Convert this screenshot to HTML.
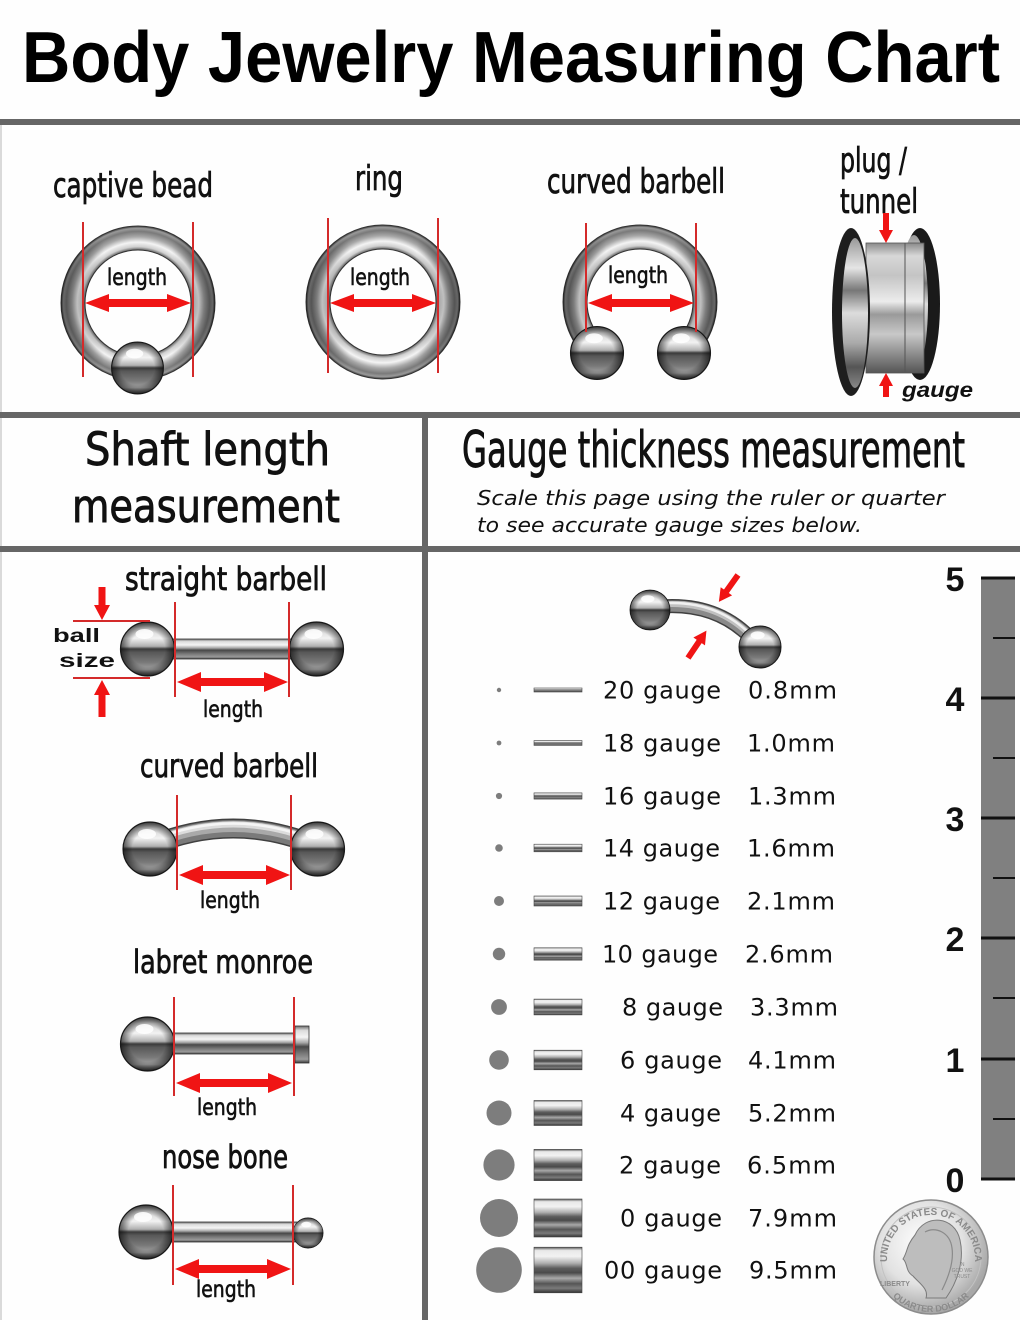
<!DOCTYPE html>
<html><head><meta charset="utf-8"><style>html,body{margin:0;padding:0;background:#fefefe;}svg{display:block}</style></head>
<body>
<svg width="1020" height="1320" viewBox="0 0 1020 1320" xmlns="http://www.w3.org/2000/svg">
<defs>
<linearGradient id="bg" x1="0" y1="0" x2="0" y2="1">
<stop offset="0" stop-color="#7a7a7a"/><stop offset=".12" stop-color="#d2d2d2"/><stop offset=".3" stop-color="#f2f2f2"/><stop offset=".45" stop-color="#b0b0b0"/><stop offset=".5" stop-color="#3a3a3a"/><stop offset=".56" stop-color="#585858"/><stop offset=".75" stop-color="#7a7a7a"/><stop offset=".88" stop-color="#a2a2a2"/><stop offset="1" stop-color="#4a4a4a"/>
</linearGradient>
<radialGradient id="bs" cx=".5" cy=".5" r=".5"><stop offset=".65" stop-color="#000" stop-opacity="0"/><stop offset="1" stop-color="#000" stop-opacity=".55"/></radialGradient>
<linearGradient id="bar" x1="0" y1="0" x2="0" y2="1">
<stop offset="0" stop-color="#6a6a6a"/><stop offset=".12" stop-color="#dcdcdc"/><stop offset=".3" stop-color="#f5f5f5"/><stop offset=".45" stop-color="#a8a8a8"/><stop offset=".56" stop-color="#484848"/><stop offset=".75" stop-color="#7a7a7a"/><stop offset=".9" stop-color="#9a9a9a"/><stop offset="1" stop-color="#3a3a3a"/>
</linearGradient>
<linearGradient id="gb" x1="0" y1="0" x2="0" y2="1">
<stop offset="0" stop-color="#555"/><stop offset=".07" stop-color="#e8e8e8"/><stop offset=".2" stop-color="#f2f2f2"/><stop offset=".35" stop-color="#b0b0b0"/><stop offset=".46" stop-color="#5e5e5e"/><stop offset=".56" stop-color="#4a4a4a"/><stop offset=".68" stop-color="#a8a8a8"/><stop offset=".8" stop-color="#555"/><stop offset=".9" stop-color="#7a7a7a"/><stop offset="1" stop-color="#333"/>
</linearGradient>
<radialGradient id="rg" cx=".5" cy=".5" r=".5">
<stop offset=".68" stop-color="#4a4a4a"/><stop offset=".73" stop-color="#cfcfcf"/><stop offset=".79" stop-color="#f4f4f4"/><stop offset=".86" stop-color="#a8a8a8"/><stop offset=".93" stop-color="#7a7a7a"/><stop offset=".97" stop-color="#9a9a9a"/><stop offset="1" stop-color="#333"/>
</radialGradient>
<linearGradient id="rs" x1="0" y1="0" x2="1" y2="0">
<stop offset="0" stop-color="#000" stop-opacity=".35"/><stop offset=".28" stop-color="#000" stop-opacity="0"/><stop offset=".72" stop-color="#000" stop-opacity="0"/><stop offset="1" stop-color="#000" stop-opacity=".35"/>
</linearGradient>
<linearGradient id="tube" x1="0" y1="0" x2="0" y2="1">
<stop offset="0" stop-color="#8a8a8a"/><stop offset=".1" stop-color="#d8d8d8"/><stop offset=".25" stop-color="#c4c4c4"/><stop offset=".45" stop-color="#ececec"/><stop offset=".55" stop-color="#9a9a9a"/><stop offset=".7" stop-color="#c8c8c8"/><stop offset=".86" stop-color="#8a8a8a"/><stop offset="1" stop-color="#555"/>
</linearGradient>
<linearGradient id="tin" x1="0" y1="0" x2="0" y2="1">
<stop offset="0" stop-color="#999"/><stop offset=".2" stop-color="#e5e5e5"/><stop offset=".35" stop-color="#777"/><stop offset=".5" stop-color="#dcdcdc"/><stop offset=".7" stop-color="#aaa"/><stop offset=".86" stop-color="#555"/><stop offset="1" stop-color="#888"/>
</linearGradient>
<radialGradient id="coin" cx=".42" cy=".38" r=".6"><stop offset="0" stop-color="#ffffff"/><stop offset=".6" stop-color="#e2e2e2"/><stop offset="1" stop-color="#a8a8a8"/></radialGradient>
<clipPath id="hs"><rect x="540" y="200" width="200" height="150"/></clipPath>
<g id="ball">
<circle r="27" fill="url(#bg)" stroke="#222" stroke-width="1.2"/>
<circle r="27" fill="url(#bs)"/>
<ellipse cx="-3" cy="-15" rx="9" ry="5" fill="#fff" opacity=".85"/>
</g>
</defs>

<rect x="0" y="0" width="1020" height="1320" fill="#fefefe"/>
<rect x="0" y="125" width="2" height="1195" fill="#dadada"/>

<!-- Title -->
<text x="22" y="82" font-family="Liberation Sans, sans-serif" font-weight="bold" font-size="72" fill="#000" textLength="978" lengthAdjust="spacingAndGlyphs">Body Jewelry Measuring Chart</text>

<!-- separators -->
<g fill="#666">
<rect x="0" y="119" width="1020" height="6"/>
<rect x="0" y="412" width="1020" height="6"/>
<rect x="0" y="546" width="1020" height="6"/>
<rect x="422" y="412" width="6" height="908"/>
</g>

<!-- ===== TOP SECTION ===== -->
<g font-family="DejaVu Sans, sans-serif" fill="#111" stroke="#111" stroke-width="0.8">
<text x="53" y="197" font-size="34" textLength="160" lengthAdjust="spacingAndGlyphs">captive bead</text>
<text x="355" y="190" font-size="34" textLength="48" lengthAdjust="spacingAndGlyphs">ring</text>
<text x="547" y="193" font-size="34" textLength="178" lengthAdjust="spacingAndGlyphs">curved barbell</text>
<text x="840" y="172" font-size="34" textLength="67" lengthAdjust="spacingAndGlyphs">plug /</text>
<text x="840" y="213" font-size="34" textLength="78" lengthAdjust="spacingAndGlyphs">tunnel</text>
</g>

<!-- captive bead ring -->
<path d="M61,303 a77,77 0 1,0 154,0 a77,77 0 1,0 -154,0 Z M85,303 a53,53 0 1,0 106,0 a53,53 0 1,0 -106,0 Z" fill="url(#rg)" fill-rule="evenodd" stroke="#333" stroke-width="1"/>
<path d="M61,303 a77,77 0 1,0 154,0 a77,77 0 1,0 -154,0 Z M85,303 a53,53 0 1,0 106,0 a53,53 0 1,0 -106,0 Z" fill="url(#rs)" fill-rule="evenodd"/>
<use href="#ball" transform="translate(137.5,368) scale(0.96)"/>

<!-- ring -->
<path d="M306,302 a77,77 0 1,0 154,0 a77,77 0 1,0 -154,0 Z M330,302 a53,53 0 1,0 106,0 a53,53 0 1,0 -106,0 Z" fill="url(#rg)" fill-rule="evenodd" stroke="#333" stroke-width="1"/>
<path d="M306,302 a77,77 0 1,0 154,0 a77,77 0 1,0 -154,0 Z M330,302 a53,53 0 1,0 106,0 a53,53 0 1,0 -106,0 Z" fill="url(#rs)" fill-rule="evenodd"/>

<!-- horseshoe -->
<g clip-path="url(#hs)">
<path d="M563,302 a77,77 0 1,0 154,0 a77,77 0 1,0 -154,0 Z M587,302 a53,53 0 1,0 106,0 a53,53 0 1,0 -106,0 Z" fill="url(#rg)" fill-rule="evenodd" stroke="#333" stroke-width="1"/>
<path d="M563,302 a77,77 0 1,0 154,0 a77,77 0 1,0 -154,0 Z M587,302 a53,53 0 1,0 106,0 a53,53 0 1,0 -106,0 Z" fill="url(#rs)" fill-rule="evenodd"/>
</g>
<use href="#ball" transform="translate(597,353) scale(0.98)"/>
<use href="#ball" transform="translate(684,353) scale(0.98)"/>

<!-- tunnel -->
<ellipse cx="920" cy="304" rx="20" ry="76" fill="#1a1a1a"/>
<ellipse cx="914" cy="304" rx="14" ry="69" fill="url(#tin)"/>
<rect x="866" y="243" width="58" height="130" fill="url(#tube)" stroke="#555" stroke-width="0.8"/>
<line x1="905" y1="243" x2="905" y2="373" stroke="#555" stroke-width="1"/>
<ellipse cx="851" cy="312" rx="19" ry="84" fill="#1e1e1e"/>
<ellipse cx="855" cy="313" rx="13" ry="75" fill="url(#tin)"/>

<!-- red lines top -->
<g stroke="#d42a2a" stroke-width="2">
<line x1="83" y1="222" x2="83" y2="377"/><line x1="193" y1="222" x2="193" y2="377"/>
<line x1="328" y1="218" x2="328" y2="373"/><line x1="438" y1="218" x2="438" y2="373"/>
<line x1="586" y1="223" x2="586" y2="332"/><line x1="696" y1="223" x2="696" y2="332"/>
</g>
<g fill="#f01414">
<polygon points="85,303 109,294 109,299 167,299 167,294 191,303 167,312 167,307 109,307 109,312"/>
<polygon points="330,303 354,294 354,299 412,299 412,294 436,303 412,312 412,307 354,307 354,312"/>
<polygon points="588,303 612,294 612,299 670,299 670,294 694,303 670,312 670,307 612,307 612,312"/>
<polygon points="883,213 889,213 889,230 893,230 886,243 879,230 883,230"/>
<polygon points="886,373 893,386 889,386 889,397 883,397 883,386 879,386"/>
</g>
<g font-family="DejaVu Sans, sans-serif" fill="#111" stroke="#111" stroke-width="0.6" font-size="23">
<text x="107" y="285" textLength="60" lengthAdjust="spacingAndGlyphs">length</text>
<text x="350" y="285" textLength="60" lengthAdjust="spacingAndGlyphs">length</text>
<text x="608" y="283" textLength="60" lengthAdjust="spacingAndGlyphs">length</text>
</g>
<text x="902" y="397" font-family="Liberation Sans, sans-serif" font-weight="bold" font-style="italic" font-size="21" fill="#111" textLength="71" lengthAdjust="spacingAndGlyphs">gauge</text>

<!-- ===== HEADERS ===== -->
<g font-family="DejaVu Sans, sans-serif" fill="#111">
<text x="85" y="465" font-size="45" stroke="#111" stroke-width="0.9" textLength="245" lengthAdjust="spacingAndGlyphs">Shaft length</text>
<text x="72" y="522" font-size="45" stroke="#111" stroke-width="0.9" textLength="268" lengthAdjust="spacingAndGlyphs">measurement</text>
<text x="462" y="467" font-size="50" stroke="#111" stroke-width="0.9" textLength="503" lengthAdjust="spacingAndGlyphs">Gauge thickness measurement</text>
<text x="477" y="505" font-size="20" font-style="italic" textLength="468" lengthAdjust="spacingAndGlyphs">Scale this page using the ruler or quarter</text>
<text x="477" y="532" font-size="20" font-style="italic" textLength="385" lengthAdjust="spacingAndGlyphs">to see accurate gauge sizes below.</text>
</g>

<!-- ===== LEFT SECTION ===== -->
<g font-family="DejaVu Sans, sans-serif" fill="#111" stroke="#111" stroke-width="0.8" font-size="32">
<text x="125" y="590" textLength="202" lengthAdjust="spacingAndGlyphs">straight barbell</text>
<text x="140" y="777" textLength="178" lengthAdjust="spacingAndGlyphs">curved barbell</text>
<text x="133" y="973" textLength="180" lengthAdjust="spacingAndGlyphs">labret monroe</text>
<text x="162" y="1168" textLength="126" lengthAdjust="spacingAndGlyphs">nose bone</text>
</g>
<g font-family="DejaVu Sans, sans-serif" fill="#111" stroke="#111" stroke-width="0.6" font-size="23">
<text x="203" y="717" textLength="60" lengthAdjust="spacingAndGlyphs">length</text>
<text x="200" y="908" textLength="60" lengthAdjust="spacingAndGlyphs">length</text>
<text x="197" y="1115" textLength="60" lengthAdjust="spacingAndGlyphs">length</text>
<text x="196" y="1297" textLength="60" lengthAdjust="spacingAndGlyphs">length</text>
</g>
<g font-family="Liberation Sans, sans-serif" font-weight="bold" font-size="19" fill="#111">
<text x="53" y="642" textLength="47" lengthAdjust="spacingAndGlyphs">ball</text>
<text x="59" y="667" textLength="56" lengthAdjust="spacingAndGlyphs">size</text>
</g>

<!-- straight barbell -->
<rect x="170" y="639" width="125" height="20" fill="url(#bar)" stroke="#333" stroke-width="0.8"/>
<use href="#ball" transform="translate(147.5,649)"/>
<use href="#ball" transform="translate(316.5,649)"/>

<!-- curved barbell -->
<g fill="none" stroke-linecap="butt">
<path d="M150,846 Q233,811 317,846" stroke="#404040" stroke-width="20"/>
<path d="M150,846 Q233,811 317,846" stroke="#7a7a7a" stroke-width="17"/>
<path d="M150,844 Q233,809 317,844" stroke="#a9a9a9" stroke-width="11"/>
<path d="M150,842 Q233,807 317,842" stroke="#dcdcdc" stroke-width="6"/>
<path d="M150,841 Q233,806 317,841" stroke="#f5f5f5" stroke-width="2.5"/>
</g>
<use href="#ball" transform="translate(150,849)"/>
<use href="#ball" transform="translate(317.5,849)"/>

<!-- labret -->
<rect x="170" y="1033" width="126" height="21" fill="url(#bar)" stroke="#333" stroke-width="0.8"/>
<rect x="295" y="1026" width="14" height="37" fill="url(#bar)" stroke="#333" stroke-width="0.8"/>
<use href="#ball" transform="translate(147.5,1044)"/>

<!-- nose bone -->
<rect x="170" y="1222" width="130" height="20" fill="url(#bar)" stroke="#333" stroke-width="0.8"/>
<use href="#ball" transform="translate(146,1232)"/>
<use href="#ball" transform="translate(308,1233) scale(0.56)"/>

<!-- red lines left -->
<g stroke="#d42a2a" stroke-width="2">
<line x1="175" y1="602" x2="175" y2="697"/><line x1="289" y1="602" x2="289" y2="697"/>
<line x1="73" y1="621" x2="150" y2="621"/><line x1="73" y1="678" x2="150" y2="678"/>
<line x1="177" y1="795" x2="177" y2="890"/><line x1="291" y1="795" x2="291" y2="890"/>
<line x1="174" y1="997" x2="174" y2="1096"/><line x1="294" y1="997" x2="294" y2="1096"/>
<line x1="173" y1="1185" x2="173" y2="1285"/><line x1="293" y1="1185" x2="293" y2="1285"/>
</g>
<g fill="#f01414">
<polygon points="177,682 201,672 201,678 264,678 264,672 288,682 264,692 264,686 201,686 201,692"/>
<polygon points="179,875 203,865 203,871 266,871 266,865 290,875 266,885 266,879 203,879 203,885"/>
<polygon points="176,1083 200,1073 200,1079 268,1079 268,1073 292,1083 268,1093 268,1087 200,1087 200,1093"/>
<polygon points="175,1269 199,1259 199,1265 267,1265 267,1259 291,1269 267,1279 267,1273 199,1273 199,1279"/>
<polygon points="98.5,587 105.5,587 105.5,605 110,605 102,620 94,605 98.5,605"/>
<polygon points="102,680 110,695 105.5,695 105.5,717 98.5,717 98.5,695 94,695"/>
</g>

<!-- ===== RIGHT SECTION ===== -->
<!-- gauge icon -->
<g fill="none">
<path d="M655,607 Q720,600 757,645" stroke="#404040" stroke-width="14"/>
<path d="M655,607 Q720,600 757,645" stroke="#8a8a8a" stroke-width="11"/>
<path d="M655,605 Q720,598 757,643" stroke="#c0c0c0" stroke-width="6"/>
<path d="M655,604 Q720,597 757,642" stroke="#f0f0f0" stroke-width="2.5"/>
</g>
<use href="#ball" transform="translate(650,610) scale(0.74)"/>
<use href="#ball" transform="translate(760,647) scale(0.78)"/>
<g fill="#f01414">
<polygon transform="translate(738,575) rotate(35.5)" points="-3,0 3,0 3,20 7,20 0,33 -7,20 -3,20"/>
<polygon transform="translate(688,658) rotate(214)" points="-3,0 3,0 3,20 7,20 0,33 -7,20 -3,20"/>
</g>

<!-- gauge dots -->
<g fill="#7d7d7d">
<circle cx="499" cy="690" r="2.2"/>
<circle cx="499" cy="743" r="2.4"/>
<circle cx="499" cy="796" r="3.1"/>
<circle cx="499" cy="848" r="3.8"/>
<circle cx="499" cy="901" r="5"/>
<circle cx="499" cy="954" r="6.2"/>
<circle cx="499" cy="1007" r="7.9"/>
<circle cx="499" cy="1060" r="9.8"/>
<circle cx="499" cy="1113" r="12.5"/>
<circle cx="499" cy="1165" r="15.6"/>
<circle cx="499" cy="1218" r="19"/>
<circle cx="499" cy="1270" r="22.8"/>
</g>
<!-- gauge bars -->
<g fill="url(#gb)" stroke="#444" stroke-width="0.6">
<rect x="534" y="688" width="48" height="4"/>
<rect x="534" y="740.6" width="48" height="4.8"/>
<rect x="534" y="792.9" width="48" height="6.2"/>
<rect x="534" y="844.2" width="48" height="7.6"/>
<rect x="534" y="896" width="48" height="10"/>
<rect x="534" y="947.8" width="48" height="12.4"/>
<rect x="534" y="999.1" width="48" height="15.8"/>
<rect x="534" y="1050.2" width="48" height="19.6"/>
<rect x="534" y="1100.5" width="48" height="25"/>
<rect x="534" y="1149.4" width="48" height="31.2"/>
<rect x="534" y="1199" width="48" height="38"/>
<rect x="534" y="1247.2" width="48" height="45.6"/>
</g>
<!-- gauge labels -->
<g font-family="DejaVu Sans, sans-serif" font-size="24" fill="#111">
<text x="603" y="698.5" textLength="118" lengthAdjust="spacing">20 gauge</text>
<text x="603" y="751.5" textLength="118" lengthAdjust="spacing">18 gauge</text>
<text x="603" y="804.5" textLength="118" lengthAdjust="spacing">16 gauge</text>
<text x="603" y="856.5" textLength="117" lengthAdjust="spacing">14 gauge</text>
<text x="603" y="909.5" textLength="117" lengthAdjust="spacing">12 gauge</text>
<text x="602" y="962.5" textLength="116" lengthAdjust="spacing">10 gauge</text>
<text x="622" y="1015.5" textLength="101" lengthAdjust="spacing">8 gauge</text>
<text x="620" y="1068.5" textLength="102" lengthAdjust="spacing">6 gauge</text>
<text x="620" y="1121.5" textLength="101" lengthAdjust="spacing">4 gauge</text>
<text x="619" y="1173.5" textLength="102" lengthAdjust="spacing">2 gauge</text>
<text x="620" y="1226.5" textLength="102" lengthAdjust="spacing">0 gauge</text>
<text x="604" y="1278.5" textLength="118" lengthAdjust="spacing">00 gauge</text>
<text x="748" y="698.5" textLength="89" lengthAdjust="spacing">0.8mm</text>
<text x="747" y="751.5" textLength="88" lengthAdjust="spacing">1.0mm</text>
<text x="748" y="804.5" textLength="88" lengthAdjust="spacing">1.3mm</text>
<text x="747" y="856.5" textLength="88" lengthAdjust="spacing">1.6mm</text>
<text x="747" y="909.5" textLength="88" lengthAdjust="spacing">2.1mm</text>
<text x="745" y="962.5" textLength="88" lengthAdjust="spacing">2.6mm</text>
<text x="750" y="1015.5" textLength="88" lengthAdjust="spacing">3.3mm</text>
<text x="748" y="1068.5" textLength="88" lengthAdjust="spacing">4.1mm</text>
<text x="748" y="1121.5" textLength="88" lengthAdjust="spacing">5.2mm</text>
<text x="747" y="1173.5" textLength="89" lengthAdjust="spacing">6.5mm</text>
<text x="748" y="1226.5" textLength="89" lengthAdjust="spacing">7.9mm</text>
<text x="749" y="1278.5" textLength="88" lengthAdjust="spacing">9.5mm</text>
</g>

<!-- ruler -->
<rect x="981" y="578" width="34" height="601" fill="#808080"/>
<g stroke="#111" stroke-width="3">
<line x1="981" y1="578" x2="1015" y2="578"/>
<line x1="981" y1="698" x2="1015" y2="698"/>
<line x1="981" y1="818" x2="1015" y2="818"/>
<line x1="981" y1="938" x2="1015" y2="938"/>
<line x1="981" y1="1059" x2="1015" y2="1059"/>
<line x1="981" y1="1179" x2="1015" y2="1179"/>
</g>
<g stroke="#111" stroke-width="2">
<line x1="993" y1="638" x2="1015" y2="638"/>
<line x1="993" y1="758" x2="1015" y2="758"/>
<line x1="993" y1="878" x2="1015" y2="878"/>
<line x1="993" y1="998" x2="1015" y2="998"/>
<line x1="993" y1="1119" x2="1015" y2="1119"/>
</g>
<g font-family="Liberation Sans, sans-serif" font-weight="bold" font-size="34" fill="#111" text-anchor="middle">
<text x="955" y="591">5</text>
<text x="955" y="711">4</text>
<text x="955" y="831">3</text>
<text x="955" y="951">2</text>
<text x="955" y="1072">1</text>
<text x="955" y="1192">0</text>
</g>

<!-- quarter -->
<circle cx="931" cy="1257" r="57" fill="url(#coin)" stroke="#8c8c8c" stroke-width="1.5"/>
<circle cx="931" cy="1257" r="50" fill="none" stroke="#c2c2c2" stroke-width="1"/>
<path d="M915,1235 C925,1213 955,1216 960,1240 C965,1262 956,1284 946,1298 L926,1298 C929,1289 919,1283 913,1276 C905,1271 908,1263 903,1259 C908,1251 906,1246 915,1235Z" fill="#bdbdbd" stroke="#7a7a7a" stroke-width="1"/>
<path d="M925,1232 C935,1226 950,1232 952,1248 C954,1262 948,1278 942,1290" fill="none" stroke="#8a8a8a" stroke-width="1.2"/>
<path id="qtop" d="M889,1272 A44,44 0 1,1 973,1272" fill="none"/>
<path id="qbot" d="M876,1257 A55,55 0 0,0 986,1257" fill="none"/>
<text font-family="Liberation Sans, sans-serif" font-weight="bold" font-size="10" fill="#8a8a8a"><textPath href="#qtop" startOffset="50%" text-anchor="middle">UNITED STATES OF AMERICA</textPath></text>
<text font-family="Liberation Sans, sans-serif" font-weight="bold" font-size="9" fill="#8a8a8a"><textPath href="#qbot" startOffset="50%" text-anchor="middle">QUARTER DOLLAR</textPath></text>
<text x="880" y="1286" font-family="Liberation Sans, sans-serif" font-weight="bold" font-size="7" fill="#8a8a8a">LIBERTY</text>
<text x="962" y="1266" font-family="Liberation Sans, sans-serif" font-size="5" fill="#8a8a8a" text-anchor="middle">IN</text>
<text x="962" y="1272" font-family="Liberation Sans, sans-serif" font-size="5" fill="#8a8a8a" text-anchor="middle">GOD WE</text>
<text x="962" y="1278" font-family="Liberation Sans, sans-serif" font-size="5" fill="#8a8a8a" text-anchor="middle">TRUST</text>
</svg>
</body></html>
